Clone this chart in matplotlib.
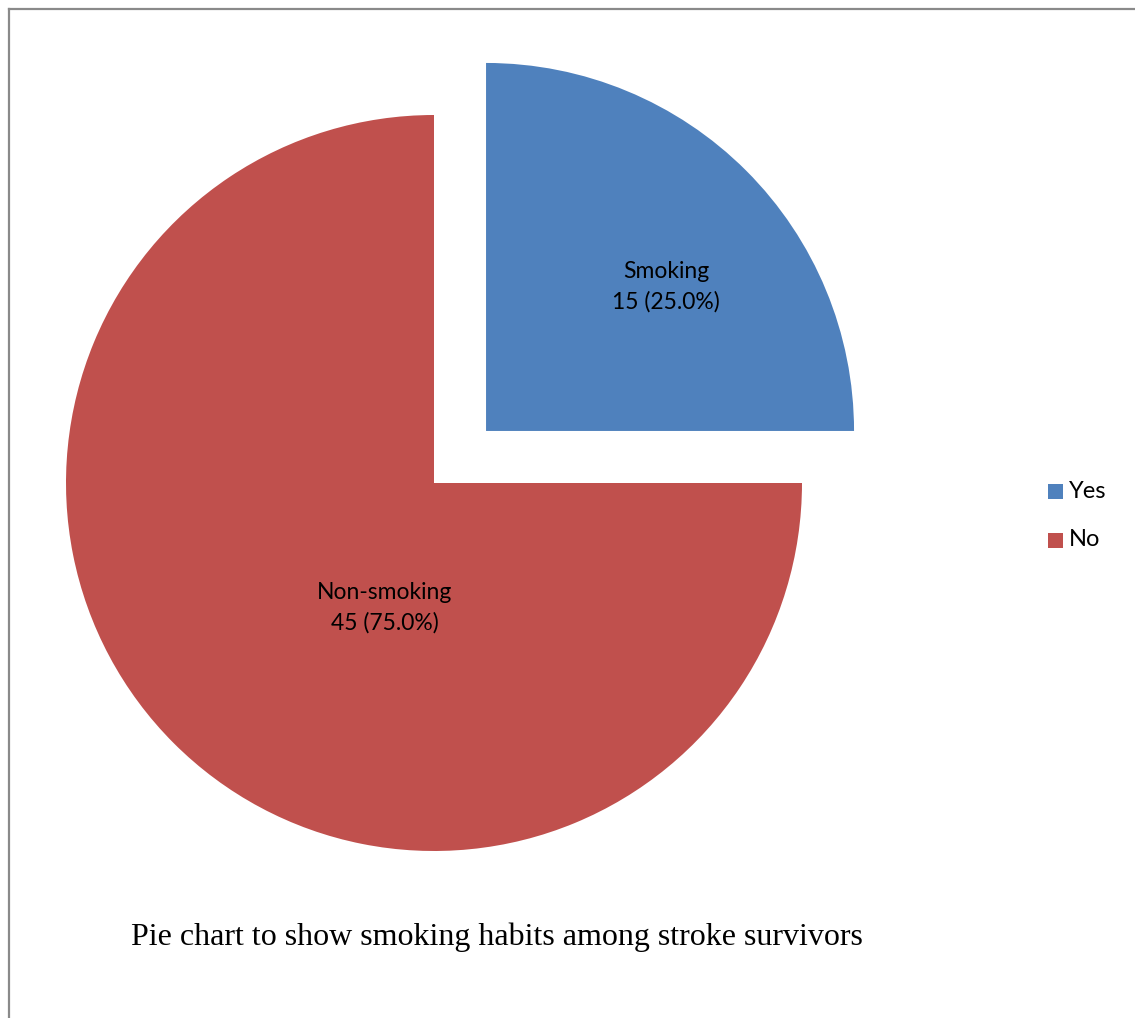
import matplotlib
matplotlib.use("Agg")
import matplotlib.pyplot as plt
from matplotlib.lines import Line2D
from matplotlib.patches import Rectangle

categories = ["Yes", "No"]
values = [15, 45]
slice_labels = ["Smoking", "Non-smoking"]
colors = ["#4F81BD", "#C0504D"]
title = "Pie chart to show smoking habits among stroke survivors"

W, H = 1135, 1018
fig = plt.figure(figsize=(W / 100, H / 100), dpi=100)
fig.patch.set_facecolor("white")

R = 368.0
cx, cy = 434.0, 483.0  # pixel center from top-left
ax = fig.add_axes([0, 0, 868 / W, 1])

total = sum(values)
wedges, _ = ax.pie(values, colors=colors, startangle=90, counterclock=False,
                   explode=[0.2, 0], radius=1.0, normalize=True,
                   wedgeprops=dict(linewidth=0))
ax.set_aspect("auto")
ax.set_xlim(-cx / R, cx / R)
ax.set_ylim(-(H - cy) / R, cy / R)
ax.axis("off")

label_pos = [(0.63, 0.534), (-0.133, -0.340)]
for lbl, v, (x, y) in zip(slice_labels, values, label_pos):
    ax.text(x, y, f"{lbl}\n{v} ({v / total * 100:.1f}%)", ha="center", va="center",
            fontsize=16.5, family=["Lato", "DejaVu Sans"], color="black", linespacing=1.5)

# legend
leg_y = [491, 540]
for c, name, y in zip(colors, categories, leg_y):
    fig.add_artist(Rectangle((1048 / W, 1 - (y + 8) / H), 15 / W, 15 / H,
                             transform=fig.transFigure, facecolor=c, edgecolor="none"))
    fig.text(1069 / W, 1 - y / H, name, ha="left", va="center", fontsize=17,
             family=["Lato", "DejaVu Sans"], color="black")

fig.text(131 / W, 1 - 937 / H, title, ha="left", va="center", fontsize=23,
         family=["Liberation Serif", "DejaVu Serif"], color="black")

# border
fig.add_artist(Line2D([8.5 / W, 8.5 / W], [0, 1 - 9 / H], transform=fig.transFigure,
                      color="#8a8a8a", linewidth=1.6))
fig.add_artist(Line2D([8.5 / W, 1], [1 - 9 / H, 1 - 9 / H], transform=fig.transFigure,
                      color="#8a8a8a", linewidth=1.6))

fig.savefig("out.png", dpi=100, facecolor="white")
